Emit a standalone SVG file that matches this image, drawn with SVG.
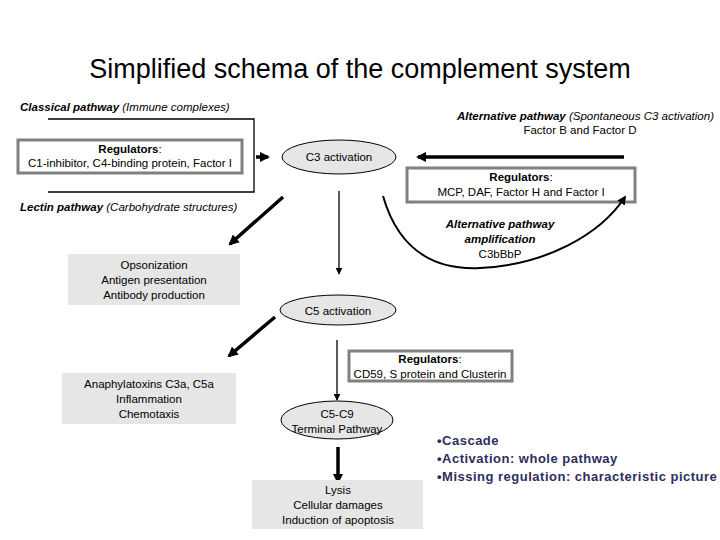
<svg xmlns="http://www.w3.org/2000/svg" width="720" height="540" viewBox="0 0 720 540">
<style>
text{font-family:"Liberation Sans",Arial,sans-serif;font-size:11.5px;fill:#000}
.c{text-anchor:middle}
.bi{font-weight:bold;font-style:italic}
.it{font-style:italic;font-weight:normal}
.b{font-weight:bold}
.reg{fill:#fff;stroke:#808080;stroke-width:3}
.out{fill:#e6e6e6}
.ell{fill:#e6e6e6;stroke:#000;stroke-width:1}
.ln{stroke:#000;stroke-width:1.3;fill:none}
.tk{stroke:#000;stroke-width:3.5;fill:none}
.bul{fill:#2e2e5e;font-weight:bold;font-size:13px;letter-spacing:0.5px}
</style>
<defs>
<marker id="a" viewBox="0 0 10 10" refX="9" refY="5" markerWidth="7" markerHeight="7" markerUnits="userSpaceOnUse" orient="auto"><path d="M0,0L10,5L0,10z" fill="#000"/></marker>
<marker id="at" viewBox="0 0 10 10" refX="8" refY="5" markerWidth="3" markerHeight="3" orient="auto"><path d="M0,0L10,5L0,10z" fill="#000"/></marker>
<marker id="am" viewBox="0 0 10 10" refX="8" refY="5" markerWidth="9" markerHeight="9" markerUnits="userSpaceOnUse" orient="auto"><path d="M0,0L10,5L0,10z" fill="#000"/></marker>
</defs>
<text x="360" y="78" class="c" style="font-size:27px">Simplified schema of the complement system</text>
<g id="connectors">
<path class="ln" d="M48,119H254V192H48"/>
<path class="tk" d="M256,157H268" marker-end="url(#at)"/>
<path class="tk" d="M624,157H418" marker-end="url(#at)"/>
<path class="tk" d="M283,197L230,244" marker-end="url(#at)"/>
<path class="ln" d="M339,191V274" marker-end="url(#a)"/>
<path class="tk" d="M275,317L229,356" marker-end="url(#at)"/>
<path class="ln" d="M337,340V400" marker-end="url(#a)"/>
<path class="tk" d="M338,447V482" marker-end="url(#at)"/>
</g>
<g id="classical"><text x="20" y="111" class="bi">Classical pathway <tspan class="it">(Immune complexes)</tspan></text></g>
<g id="lectin"><text x="20" y="211" class="bi">Lectin pathway <tspan class="it">(Carbohydrate structures)</tspan></text></g>
<g id="reg1"><rect class="reg" x="18" y="140" width="224" height="33"/>
<text x="130" y="153" class="c"><tspan class="b">Regulators</tspan>:</text>
<text x="130" y="167" class="c">C1-inhibitor, C4-binding protein, Factor I</text></g>
<g id="c3"><ellipse class="ell" cx="339" cy="157" rx="57" ry="17"/><text x="339" y="161" class="c">C3 activation</text></g>
<g id="alt"><text x="714" y="120" class="bi" text-anchor="end">Alternative pathway <tspan class="it">(Spontaneous C3 activation)</tspan></text>
<text x="580" y="134" class="c">Factor B and Factor D</text></g>
<g id="reg2"><rect class="reg" x="407" y="168" width="228" height="34"/>
<text x="521" y="181" class="c"><tspan class="b">Regulators</tspan>:</text>
<text x="521" y="196" class="c">MCP, DAF, Factor H and Factor I</text></g>
<g id="amp-connector"><path class="ln" style="stroke-width:2" d="M383,196C400,255 440,270 480,268C545,265 600,235 625,197" marker-end="url(#am)"/></g>
<g id="amp"><text x="500" y="228" class="c bi">Alternative pathway</text><text x="500" y="243" class="c bi">amplification</text><text x="500" y="258" class="c">C3bBbP</text></g>
<g id="opson"><rect class="out" x="68" y="254" width="172" height="51"/>
<text x="154" y="269" class="c">Opsonization</text><text x="154" y="284" class="c">Antigen presentation</text><text x="154" y="299" class="c">Antibody production</text></g>
<g id="c5"><ellipse class="ell" cx="338" cy="310" rx="58" ry="15"/><text x="338" y="315" class="c">C5 activation</text></g>
<g id="anaph"><rect class="out" x="62" y="373" width="174" height="51"/>
<text x="149" y="388" class="c">Anaphylatoxins C3a, C5a</text><text x="149" y="403" class="c">Inflammation</text><text x="149" y="418" class="c">Chemotaxis</text></g>
<g id="reg3"><rect class="reg" x="349" y="351" width="163" height="30"/>
<text x="430" y="363" class="c"><tspan class="b">Regulators</tspan>:</text>
<text x="430" y="378" class="c">CD59, S protein and Clusterin</text></g>
<g id="c5c9"><ellipse class="ell" cx="337" cy="420" rx="56" ry="19"/><text x="337" y="418" class="c">C5-C9</text><text x="337" y="433" class="c">Terminal Pathway</text></g>
<g id="lysis"><rect class="out" x="252" y="480" width="171" height="49"/>
<text x="338" y="494" class="c">Lysis</text><text x="338" y="509" class="c">Cellular damages</text><text x="338" y="524" class="c">Induction of apoptosis</text></g>
<g id="bullets"><text x="437" y="445" class="bul">•Cascade</text><text x="437" y="463" class="bul">•Activation: whole pathway</text><text x="437" y="481" class="bul">•Missing regulation: characteristic picture</text></g>
</svg>
